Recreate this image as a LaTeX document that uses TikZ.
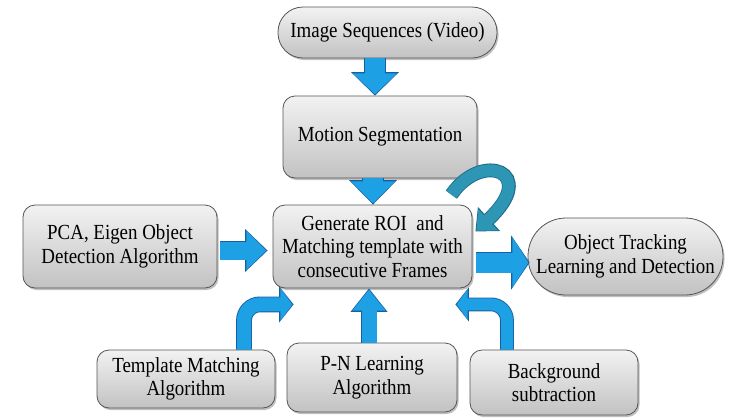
\documentclass[tikz,border=0pt]{standalone}
\usepackage{fontspec}
\setmainfont{Liberation Serif}
\newfontfamily\boxfont[FakeStretch=0.88]{Liberation Serif}
\usetikzlibrary{arrows.meta,calc,shadows}
\definecolor{arrowfill}{RGB}{30,160,228}
\definecolor{arrowedge}{RGB}{25,95,160}
\definecolor{tealfill}{RGB}{45,150,180}
\definecolor{tealedge}{RGB}{30,105,135}
\definecolor{boxedge}{RGB}{85,85,85}
\newcommand\fatarrow[6]{%
  \pgfmathsetmacro\faA{#1+1.8}\pgfmathsetmacro\faB{#2+3.5}\pgfmathsetmacro\faC{#3+2.5}%
  \draw[line width=\faA pt, draw=#5, -{Triangle[width=\faB pt,length=\faC pt]}] #4;
  \draw[line width=#1pt, draw=#6, -{Triangle[width=#2pt,length=#3pt]}, shorten >=1.3pt] #4;}
\tikzset{
  box/.style={draw=boxedge, line width=0.8pt, rounded corners=12pt,
    top color=white!95!black, bottom color=white!76!black,
    drop shadow={shadow xshift=1.5pt, shadow yshift=-2pt, fill=black, opacity=0.25},
    align=center, font=\rmfamily\boxfont\fontsize{21.5}{23.5}\selectfont, inner sep=2pt},
}
\begin{document}
\begin{tikzpicture}[x=1pt,y=-1pt]
\useasboundingbox (0,0) rectangle (731,418);
\node[box, rounded corners=25pt, minimum width=219pt, minimum height=51pt] (img) at (387.5,32.5) {Image Sequences (Video)};
\node[box, minimum width=194pt, minimum height=82pt] (mot) at (380,137) {Motion Segmentation};
\node[box, minimum width=199pt, minimum height=83pt] (gen) at (372.5,246.5) {Generate ROI~ and\\Matching template with\\consecutive Frames};
\node[box, minimum width=194pt, minimum height=83pt] (pca) at (120,246.5) {PCA, Eigen Object\\Detection Algorithm};
\node[box, rounded corners=38pt, minimum width=195pt, minimum height=77pt] (obj) at (625.5,256.5) {Object Tracking\\Learning and Detection};
\node[box, minimum width=178pt, minimum height=58pt] (tpl) at (186,379) {Template Matching\\Algorithm};
\node[box, minimum width=170pt, minimum height=69pt] (pn) at (372,377.5) {P-N Learning\\Algorithm};
\node[box, minimum width=168pt, minimum height=65pt] (bg) at (554,382.5) {Background\\subtraction};
% straight arrows
\fatarrow{20}{43}{21}{(img.south -| 375,0) -- (mot.north -| 375,0)}{arrowedge}{arrowfill}
\fatarrow{20}{43}{22}{(mot.south -| 373,0) -- (gen.north -| 373,0)}{arrowedge}{arrowfill}
\fatarrow{18}{38}{20}{($(pca.east)+(3,4)$) -- ($(gen.west)+(-5,4)$)}{arrowedge}{arrowfill}
\fatarrow{20}{50}{16}{($(gen.east)+(4,16)$) -- ($(obj.west)+(2,6)$)}{arrowedge}{arrowfill}
\fatarrow{15}{32}{21}{(pn.north -| 369,0) -- (gen.south -| 369,0)}{arrowedge}{arrowfill}
% bent arrows
\coordinate (tplend) at ($(gen.south west)+(21,16)$);
\coordinate (bgend) at ($(gen.south east)+(-17,16)$);
\fatarrow{14}{32}{12}{[rounded corners=16pt] (tpl.north -| 244,0) |- (tplend)}{arrowedge}{arrowfill}
\fatarrow{12}{30}{11}{[rounded corners=16pt] (bg.north -| 507,0) |- (bgend)}{arrowedge}{arrowfill}
% circular arrow
\coordinate (cs) at ($(gen.north east)+(-21,-10)$);
\coordinate (ce) at ($(gen.east)+(3,-15)$);
\fatarrow{12}{28}{16}{(cs) .. controls (482,150) and (540,172) .. (ce)}{tealedge}{tealfill}
\end{tikzpicture}
\end{document}
